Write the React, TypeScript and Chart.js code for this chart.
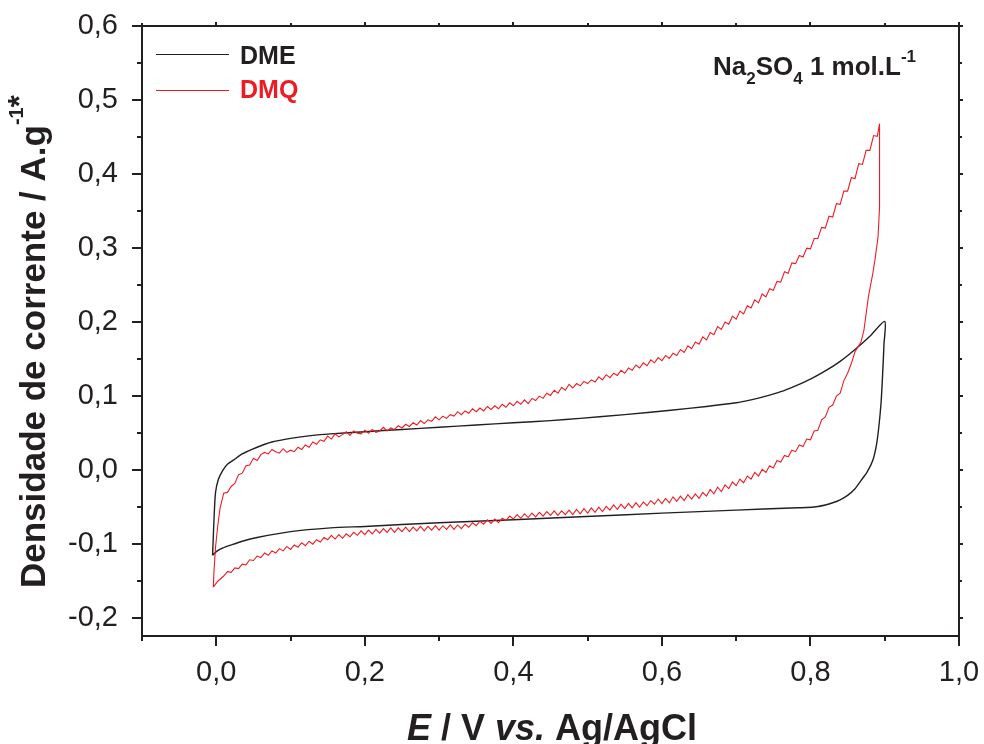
import React, { useEffect, useRef } from "react";
import { Chart, registerables } from "chart.js";

Chart.register(...registerables);

// ---- Data (E / V vs Ag/AgCl, current density / A.g-1) ----
// DME: anodic sweep then cathodic sweep (closed loop)
const dmeE = [
  -0.005, -0.004, -0.003, -0.001, 0.003, 0.009, 0.015, 0.023, 0.035, 0.055, 0.075, 0.1, 0.13, 0.154, 0.2,
  0.25, 0.3, 0.35, 0.4, 0.45, 0.49, 0.55, 0.612, 0.66, 0.7, 0.72, 0.74, 0.76, 0.78, 0.8, 0.82, 0.84, 0.86,
  0.88, 0.9,
  0.899, 0.897, 0.895, 0.892, 0.889, 0.884, 0.876, 0.868, 0.86, 0.85, 0.84, 0.83, 0.82, 0.81, 0.795, 0.774, 0.7,
  0.6, 0.49, 0.4, 0.3, 0.2, 0.154, 0.1, 0.055, 0.035, 0.02, 0.009, 0.0, -0.005,
];
const dmeJ = [
  -0.115, -0.09, -0.065, -0.03, -0.012, 0.0, 0.008, 0.0135, 0.022, 0.031, 0.038, 0.043, 0.047, 0.049, 0.052,
  0.055, 0.058, 0.061, 0.064, 0.067, 0.07, 0.075, 0.081, 0.086, 0.091, 0.095, 0.1, 0.106, 0.114, 0.123, 0.134,
  0.147, 0.163, 0.181, 0.201,
  0.17, 0.126, 0.09, 0.058, 0.035, 0.0135, -0.003, -0.014, -0.025, -0.034, -0.04, -0.044, -0.047, -0.049, -0.0505,
  -0.051, -0.054, -0.058, -0.063, -0.067, -0.071, -0.076, -0.078, -0.083, -0.091, -0.096, -0.101, -0.105, -0.11,
  -0.115,
];

// DMQ anodic sweep
const dmqForwardE = [
  -0.004, -0.003, -0.001, 0.002, 0.005,
  0.01, 0.015, 0.02, 0.025, 0.03, 0.035, 0.04, 0.045, 0.05, 0.055, 0.06, 0.065, 0.07, 0.075, 0.08, 0.085, 0.09, 0.095,
  0.1, 0.105, 0.11, 0.115, 0.12, 0.125, 0.13, 0.135, 0.14, 0.145, 0.15, 0.155, 0.16, 0.165, 0.17, 0.175, 0.18, 0.185,
  0.19, 0.195, 0.2, 0.205, 0.21, 0.215, 0.22, 0.225, 0.23, 0.235, 0.24, 0.245, 0.25, 0.255, 0.26, 0.265, 0.27, 0.275,
  0.28, 0.285, 0.29, 0.295, 0.3, 0.305, 0.31, 0.315, 0.32, 0.325, 0.33, 0.335, 0.34, 0.345, 0.35, 0.355, 0.36, 0.365,
  0.37, 0.375, 0.38, 0.385, 0.39, 0.395, 0.4, 0.405, 0.41, 0.415, 0.42, 0.425, 0.43, 0.435, 0.44, 0.445, 0.45, 0.455,
  0.46, 0.465, 0.47, 0.475, 0.48, 0.485, 0.49, 0.495, 0.5, 0.505, 0.51, 0.515, 0.52, 0.525, 0.53, 0.535, 0.54, 0.545,
  0.55, 0.555, 0.56, 0.565, 0.57, 0.575, 0.58, 0.585, 0.59, 0.595, 0.6, 0.605, 0.61, 0.615, 0.62, 0.625, 0.63, 0.635,
  0.64, 0.645, 0.65, 0.655, 0.66, 0.665, 0.67, 0.675, 0.68, 0.685, 0.69, 0.695, 0.7, 0.705, 0.71, 0.715, 0.72, 0.725,
  0.73, 0.735, 0.74, 0.745, 0.75, 0.755, 0.76, 0.765, 0.77, 0.775, 0.78, 0.785, 0.79, 0.795, 0.8, 0.805, 0.81, 0.815,
  0.82, 0.825, 0.83, 0.835, 0.84, 0.845, 0.85, 0.855, 0.86, 0.865, 0.87, 0.875, 0.88, 0.885, 0.89, 0.893,
];
const dmqForwardJ = [
  -0.158, -0.135, -0.104, -0.075, -0.052,
  -0.031, -0.03, -0.022, -0.018, -0.006, -0.004, 0.006, 0.007, 0.016, 0.013, 0.021, 0.024, 0.022, 0.028, 0.025, 0.023,
  0.029, 0.024, 0.027, 0.025, 0.031, 0.028, 0.034, 0.031, 0.038, 0.035, 0.041, 0.039, 0.046, 0.042, 0.049, 0.045,
  0.048, 0.052, 0.047, 0.053, 0.05, 0.049, 0.054, 0.05, 0.055, 0.051, 0.053, 0.058, 0.053, 0.057, 0.055, 0.06, 0.057,
  0.062, 0.059, 0.064, 0.061, 0.067, 0.063, 0.068, 0.066, 0.072, 0.068, 0.073, 0.07, 0.075, 0.073, 0.079, 0.075, 0.08,
  0.077, 0.083, 0.079, 0.084, 0.08, 0.086, 0.082, 0.087, 0.083, 0.089, 0.085, 0.091, 0.087, 0.093, 0.089, 0.095, 0.09,
  0.097, 0.094, 0.1, 0.097, 0.104, 0.101, 0.108, 0.104, 0.112, 0.108, 0.116, 0.111, 0.117, 0.114, 0.12, 0.117, 0.122,
  0.119, 0.126, 0.122, 0.129, 0.125, 0.131, 0.128, 0.135, 0.131, 0.138, 0.135, 0.142, 0.138, 0.145, 0.141, 0.149,
  0.145, 0.152, 0.148, 0.155, 0.151, 0.158, 0.155, 0.163, 0.159, 0.168, 0.164, 0.173, 0.17, 0.18, 0.176, 0.186, 0.183,
  0.194, 0.19, 0.2, 0.197, 0.208, 0.204, 0.215, 0.211, 0.222, 0.219, 0.23, 0.226, 0.238, 0.234, 0.245, 0.243, 0.255,
  0.254, 0.268, 0.266, 0.28, 0.279, 0.29, 0.288, 0.3, 0.299, 0.313, 0.313, 0.328, 0.327, 0.343, 0.342, 0.36, 0.359,
  0.377, 0.377, 0.395, 0.394, 0.414, 0.413, 0.432, 0.432, 0.452, 0.451, 0.468,
];

// DMQ cathodic sweep
const dmqReverseE = [
  0.893, 0.891, 0.887, 0.884, 0.878, 0.872, 0.868,
  0.86, 0.855, 0.85, 0.845, 0.84, 0.835, 0.83, 0.825, 0.82, 0.815, 0.81, 0.805, 0.8, 0.795, 0.79, 0.785, 0.78, 0.775,
  0.77, 0.765, 0.76, 0.755, 0.75, 0.745, 0.74, 0.735, 0.73, 0.725, 0.72, 0.715, 0.71, 0.705, 0.7, 0.695, 0.69, 0.685,
  0.68, 0.675, 0.67, 0.665, 0.66, 0.655, 0.65, 0.645, 0.64, 0.635, 0.63, 0.625, 0.62, 0.615, 0.61, 0.605, 0.6, 0.595,
  0.59, 0.585, 0.58, 0.575, 0.57, 0.565, 0.56, 0.555, 0.55, 0.545, 0.54, 0.535, 0.53, 0.525, 0.52, 0.515, 0.51, 0.505,
  0.5, 0.495, 0.49, 0.485, 0.48, 0.475, 0.47, 0.465, 0.46, 0.455, 0.45, 0.445, 0.44, 0.435, 0.43, 0.425, 0.42, 0.415,
  0.41, 0.405, 0.4, 0.395, 0.39, 0.385, 0.38, 0.375, 0.37, 0.365, 0.36, 0.355, 0.35, 0.345, 0.34, 0.335, 0.33, 0.325,
  0.32, 0.315, 0.31, 0.305, 0.3, 0.295, 0.29, 0.285, 0.28, 0.275, 0.27, 0.265, 0.26, 0.255, 0.25, 0.245, 0.24, 0.235,
  0.23, 0.225, 0.22, 0.215, 0.21, 0.205, 0.2, 0.195, 0.19, 0.185, 0.18, 0.175, 0.17, 0.165, 0.16, 0.155, 0.15, 0.145,
  0.14, 0.135, 0.13, 0.125, 0.12, 0.115, 0.11, 0.105, 0.1, 0.095, 0.09, 0.085, 0.08, 0.075, 0.07, 0.065, 0.06, 0.055,
  0.05, 0.045, 0.04, 0.035, 0.03, 0.025, 0.02, 0.015, 0.01, 0.002, -0.004,
];
const dmqReverseJ = [
  0.355, 0.315, 0.285, 0.266, 0.234, 0.189, 0.173,
  0.16, 0.144, 0.131, 0.121, 0.104, 0.1, 0.088, 0.085, 0.072, 0.068, 0.054, 0.053, 0.041, 0.042, 0.032, 0.034, 0.025,
  0.027, 0.018, 0.02, 0.011, 0.013, 0.003, 0.006, -0.003, 0.001, -0.008, -0.003, -0.012, -0.008, -0.017, -0.012,
  -0.021, -0.016, -0.025, -0.02, -0.029, -0.023, -0.032, -0.026, -0.035, -0.03, -0.038, -0.032, -0.039, -0.033,
  -0.041, -0.035, -0.042, -0.036, -0.044, -0.038, -0.045, -0.039, -0.046, -0.041, -0.048, -0.043, -0.05, -0.044,
  -0.051, -0.045, -0.052, -0.046, -0.053, -0.047, -0.054, -0.049, -0.056, -0.05, -0.057, -0.051, -0.058, -0.052,
  -0.059, -0.053, -0.06, -0.054, -0.06, -0.055, -0.061, -0.055, -0.061, -0.056, -0.062, -0.057, -0.063, -0.058,
  -0.064, -0.059, -0.065, -0.06, -0.066, -0.062, -0.068, -0.065, -0.071, -0.066, -0.072, -0.067, -0.073, -0.069,
  -0.075, -0.071, -0.077, -0.073, -0.079, -0.074, -0.08, -0.074, -0.08, -0.075, -0.081, -0.075, -0.081, -0.076,
  -0.082, -0.076, -0.082, -0.077, -0.083, -0.077, -0.083, -0.078, -0.084, -0.078, -0.084, -0.079, -0.085, -0.08,
  -0.086, -0.081, -0.087, -0.082, -0.088, -0.084, -0.09, -0.086, -0.092, -0.087, -0.093, -0.088, -0.094, -0.091,
  -0.097, -0.094, -0.1, -0.096, -0.102, -0.098, -0.104, -0.101, -0.107, -0.103, -0.109, -0.106, -0.112, -0.109,
  -0.115, -0.112, -0.118, -0.116, -0.122, -0.121, -0.128, -0.127, -0.133, -0.132, -0.138, -0.137, -0.143, -0.15,
  -0.158,
];

const xTicks = [0, 0.2, 0.4, 0.6, 0.8, 1.0];
const xMinorTicks = [-0.1, 0.1, 0.3, 0.5, 0.7, 0.9];
const yTicks = [-0.2, -0.1, 0, 0.1, 0.2, 0.3, 0.4, 0.5, 0.6];
const yMinorTicks = [-0.15, -0.05, 0.05, 0.15, 0.25, 0.35, 0.45, 0.55];

const seriesNames = ["DME", "DMQ"];
const FONT = '"Liberation Sans", Arial, Helvetica, sans-serif';
const INK = "#231f20";
const RED = "#ed1c24";

const fmt = (v: number) => (Math.abs(v) < 1e-9 ? 0 : v).toFixed(1).replace(".", ",");

const noPad = (s: any) => {
  s.paddingTop = 0;
  s.paddingBottom = 0;
  s.paddingLeft = 0;
  s.paddingRight = 0;
};

const decorPlugin = {
  id: "decor",
  afterDraw(chart: any) {
    const { ctx, chartArea } = chart;
    const { left, right, top, bottom } = chartArea;
    const xs = chart.scales.x;
    const ys = chart.scales.y;
    ctx.save();
    // frame
    ctx.strokeStyle = INK;
    ctx.lineWidth = 2;
    ctx.strokeRect(left, top, right - left, bottom - top);
    // ticks
    ctx.beginPath();
    for (const v of xTicks) {
      const p = Math.round(xs.getPixelForValue(v));
      ctx.moveTo(p, bottom); ctx.lineTo(p, bottom + 10);
      ctx.moveTo(p, top); ctx.lineTo(p, top - 4);
    }
    for (const v of xMinorTicks) {
      const p = Math.round(xs.getPixelForValue(v));
      ctx.moveTo(p, bottom); ctx.lineTo(p, bottom + 5);
      ctx.moveTo(p, top); ctx.lineTo(p, top - 3);
    }
    for (const v of yTicks) {
      const p = Math.round(ys.getPixelForValue(v));
      ctx.moveTo(left, p); ctx.lineTo(left - 10, p);
      ctx.moveTo(right, p); ctx.lineTo(right + 4, p);
    }
    for (const v of yMinorTicks) {
      const p = Math.round(ys.getPixelForValue(v));
      ctx.moveTo(left, p); ctx.lineTo(left - 5, p);
      ctx.moveTo(right, p); ctx.lineTo(right + 3, p);
    }
    ctx.stroke();

    // legend
    ctx.lineWidth = 1.2;
    ctx.strokeStyle = INK;
    ctx.beginPath(); ctx.moveTo(156, 54.5); ctx.lineTo(229, 54.5); ctx.stroke();
    ctx.strokeStyle = RED;
    ctx.beginPath(); ctx.moveTo(156, 90.5); ctx.lineTo(229, 90.5); ctx.stroke();
    ctx.textBaseline = "alphabetic";
    ctx.textAlign = "left";
    ctx.font = `bold 25px ${FONT}`;
    ctx.fillStyle = INK;
    ctx.fillText(seriesNames[0], 240, 64);
    ctx.fillStyle = RED;
    ctx.fillText(seriesNames[1], 240, 98);

    // annotation Na2SO4 1 mol.L-1
    ctx.fillStyle = INK;
    const parts: [string, number, number][] = [
      ["Na", 26, 0], ["2", 17, 9], ["SO", 26, 0], ["4", 17, 9], [" 1 mol.L", 26, 0], ["-1", 17, -13],
    ];
    let ax = 713;
    for (const [t, s, dy] of parts) {
      ctx.font = `bold ${s}px ${FONT}`;
      ctx.fillText(t, ax, 75 + dy);
      ax += ctx.measureText(t).width;
    }

    // x title
    const xparts: [string, boolean][] = [["E", true], [" / V ", false], ["vs.", true], [" Ag/AgCl", false]];
    let tx = 407;
    for (const [t, it] of xparts) {
      ctx.font = `${it ? "italic " : ""}bold 36px ${FONT}`;
      ctx.fillText(t, tx, 740);
      tx += ctx.measureText(t).width;
    }

    // y title
    ctx.translate(45, 588);
    ctx.rotate(-Math.PI / 2);
    const yparts: [string, number, number][] = [
      ["Densidade de corrente / A.g", 35, 0], ["-1", 20, -22], ["*", 31, -15],
    ];
    let ty = 0;
    for (const [t, s, dy] of yparts) {
      ctx.font = `bold ${s}px ${FONT}`;
      ctx.fillText(t, ty, dy);
      ty += ctx.measureText(t).width;
    }
    ctx.restore();
  },
};

export default function App() {
  const canvasRef = useRef<HTMLCanvasElement | null>(null);

  useEffect(() => {
    const canvas = canvasRef.current;
    if (!canvas) return;
    const dmePts = dmeE.map((e, i) => ({ x: e, y: dmeJ[i] }));
    const dmqPts = [
      ...dmqForwardE.map((e, i) => ({ x: e, y: dmqForwardJ[i] })),
      ...dmqReverseE.map((e, i) => ({ x: e, y: dmqReverseJ[i] })),
    ];
    const tickFont = { family: FONT, size: 29 };
    const chart = new Chart(canvas, {
      type: "scatter",
      data: {
        datasets: [
          {
            label: seriesNames[1],
            data: dmqPts,
            showLine: true,
            borderColor: RED,
            borderWidth: 1.1,
            pointRadius: 0,
            tension: 0,
          },
          {
            label: seriesNames[0],
            data: dmePts,
            showLine: true,
            borderColor: INK,
            borderWidth: 1.4,
            pointRadius: 0,
            tension: 0.25,
          },
        ],
      },
      options: {
        responsive: false,
        animation: false,
        devicePixelRatio: 1,
        layout: { padding: { top: 26, right: 25, left: 0, bottom: 0 } },
        plugins: { legend: { display: false }, tooltip: { enabled: false }, title: { display: false } },
        scales: {
          x: {
            type: "linear",
            min: -0.1,
            max: 1.0,
            afterBuildTicks: (s: any) => { s.ticks = xTicks.map((v) => ({ value: v })); },
            afterFit: (s: any) => { s.height = 108; noPad(s); },
            grid: { display: false, drawTicks: false },
            border: { display: false },
            ticks: {
              font: tickFont,
              color: INK,
              padding: 20,
              maxRotation: 0,
              autoSkip: false,
              callback: (v: any) => fmt(Number(v)),
            },
          },
          y: {
            type: "linear",
            min: -0.224,
            max: 0.6,
            afterBuildTicks: (s: any) => { s.ticks = yTicks.map((v) => ({ value: v })); },
            afterFit: (s: any) => { s.width = 142; noPad(s); },
            grid: { display: false, drawTicks: false },
            border: { display: false },
            ticks: {
              font: tickFont,
              color: INK,
              padding: 24,
              autoSkip: false,
              callback: (v: any) => fmt(Number(v)),
            },
          },
        },
      },
      plugins: [decorPlugin],
    } as any);
    return () => chart.destroy();
  }, []);

  return (
    <div style={{ position: "absolute", left: 0, top: 0, width: 984, height: 744, background: "#fff" }}>
      <canvas ref={canvasRef} width={984} height={744} style={{ display: "block", width: 984, height: 744 }} />
    </div>
  );
}
